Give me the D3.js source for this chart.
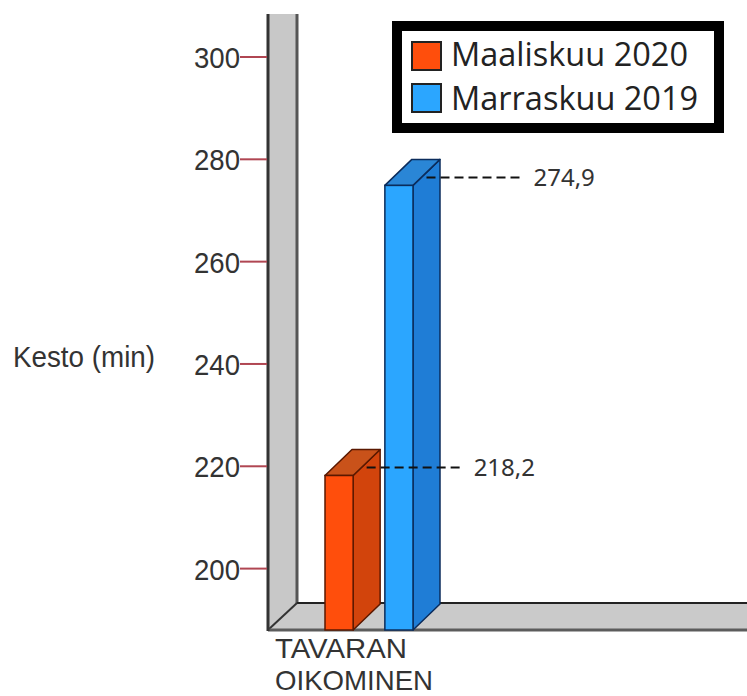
<!DOCTYPE html>
<html lang="fi">
<head>
  <meta charset="UTF-8">
  <title>index</title>
  <style type="text/css">
    html, body {
      margin: 0;
      padding: 0;
      background: #fff;
    }
    svg {
      display: block;
    }
  </style>
</head>
<body>
  <svg id="chart" width="747" height="696"></svg>

<script src="https://cdn.jsdelivr.net/npm/d3@7/dist/d3.min.js"></script>
<script>
  // data
  const categories = ['TAVARAN OIKOMINEN']
  const seriesNames = ['Maaliskuu 2020', 'Marraskuu 2019']
  const seriesValues = [218.2, 274.9]
  const yTicks = [200, 220, 240, 260, 280, 300]
  const yTitle = 'Kesto (min)'

  const colors = {
    'Maaliskuu 2020': { front: '#ff4e0c', side: '#d2440c', top: '#c9521a', edge: '#5a1800' },
    'Marraskuu 2019': { front: '#2ba6ff', side: '#1f7dd6', top: '#2a86d6', edge: '#0b2c5c' }
  }

  const fi = d3.formatLocale({ decimal: ',', thousands: ' ', grouping: [3], currency: ['', ' €'] })
  const fmt = fi.format('.1f')

  const svg = d3.select('#chart')

  // plot frame
  const plotLeft = 268, plotRight = 747, plotTop = 14
  const wallDx = 29, wallDy = -27
  const barDx = 27, barDy = -26

  const y = d3.scaleLinear().domain([188, 300]).range([630, 57])
  const x0 = d3.scaleBand().domain(categories).range([325, 413])
  const x1 = d3.scaleBand().domain(seriesNames).range([0, x0.bandwidth()]).paddingInner(0.53)

  const floorY = y(y.domain()[0])

  // side wall
  svg.append('polygon')
    .attr('points', [[plotLeft, plotTop], [plotLeft + wallDx, plotTop], [plotLeft + wallDx, floorY + wallDy], [plotLeft, floorY]].join(' '))
    .attr('fill', '#c8c8c8')
  // floor
  svg.append('polygon')
    .attr('points', [[plotLeft, floorY], [plotLeft + wallDx, floorY + wallDy], [plotRight, floorY + wallDy], [plotRight, floorY]].join(' '))
    .attr('fill', '#cacaca')

  svg.append('line').attr('x1', plotLeft + wallDx).attr('x2', plotLeft + wallDx)
    .attr('y1', plotTop).attr('y2', floorY + wallDy)
    .attr('stroke', '#555').attr('stroke-width', 3)
  svg.append('line').attr('x1', plotLeft + wallDx).attr('x2', plotRight)
    .attr('y1', floorY + wallDy).attr('y2', floorY + wallDy)
    .attr('stroke', '#222').attr('stroke-width', 2)
  svg.append('line').attr('x1', plotLeft).attr('x2', plotLeft + wallDx)
    .attr('y1', floorY).attr('y2', floorY + wallDy)
    .attr('stroke', '#333').attr('stroke-width', 2)
  svg.append('line').attr('x1', plotLeft).attr('x2', plotRight)
    .attr('y1', floorY).attr('y2', floorY)
    .attr('stroke', '#5c5c5c').attr('stroke-width', 3)
  svg.append('line').attr('x1', plotLeft).attr('x2', plotLeft)
    .attr('y1', plotTop).attr('y2', floorY + 1)
    .attr('stroke', '#333').attr('stroke-width', 3)

  // y axis ticks + labels
  const ticks = svg.append('g')
  ticks.selectAll('line').data(yTicks).join('line')
    .attr('x1', 240).attr('x2', plotLeft - 1)
    .attr('y1', d => y(d)).attr('y2', d => y(d))
    .attr('stroke', '#b04652').attr('stroke-width', 2)
  ticks.selectAll('text').data(yTicks).join('text')
    .attr('x', 240).attr('y', d => y(d) + 11)
    .attr('text-anchor', 'end')
    .attr('font-family', 'Liberation Sans, Arial, sans-serif')
    .attr('font-size', 30)
    .attr('textLength', 46).attr('lengthAdjust', 'spacingAndGlyphs')
    .attr('fill', '#333')
    .text(d => d)

  svg.append('text')
    .attr('x', 13).attr('y', 367)
    .attr('font-family', 'Liberation Sans, Arial, sans-serif')
    .attr('font-size', 29)
    .attr('textLength', 142).attr('lengthAdjust', 'spacingAndGlyphs')
    .attr('fill', '#333')
    .text(yTitle)

  // 3d bars
  const bars = svg.append('g')
  seriesNames.forEach((s, i) => {
    const v = seriesValues[i]
    const c = colors[s]
    const bx = x0(categories[0]) + x1(s)
    const bw = x1.bandwidth()
    const by = y(v)
    const g = bars.append('g')
    // side
    g.append('polygon')
      .attr('points', [[bx + bw, by], [bx + bw + barDx, by + barDy], [bx + bw + barDx, floorY + barDy], [bx + bw, floorY]].join(' '))
      .attr('fill', c.side).attr('stroke', c.edge).attr('stroke-width', 1.5).attr('stroke-linejoin', 'round')
    // top
    g.append('polygon')
      .attr('points', [[bx, by], [bx + barDx, by + barDy], [bx + bw + barDx, by + barDy], [bx + bw, by]].join(' '))
      .attr('fill', c.top).attr('stroke', c.edge).attr('stroke-width', 1.5).attr('stroke-linejoin', 'round')
    // front
    g.append('rect')
      .attr('x', bx).attr('y', by)
      .attr('width', bw).attr('height', floorY - by)
      .attr('fill', c.front).attr('stroke', c.edge).attr('stroke-width', 1.5)
  })

  // value labels with dashed leaders
  const lbl = svg.append('g')
  seriesNames.forEach((s, i) => {
    const v = seriesValues[i]
    const sx = x0(categories[0]) + x1(s) + x1.bandwidth() + barDx / 2
    const sy = y(v) - 8
    lbl.append('line')
      .attr('x1', sx).attr('x2', sx + 96)
      .attr('y1', sy).attr('y2', sy)
      .attr('stroke', '#111').attr('stroke-width', 2)
      .attr('stroke-dasharray', '9,5')
    lbl.append('text')
      .attr('x', sx + 107).attr('y', sy + 9)
      .attr('font-family', 'Noto Sans, Open Sans, sans-serif')
      .attr('font-size', 24)
      .attr('fill', '#333')
      .text(fmt(v))
  })

  // category label (two lines)
  const catLines = categories[0].split(' ')
  const catLens = [132, 158]
  svg.append('g').selectAll('text').data(catLines).join('text')
    .attr('x', 275).attr('y', (d, i) => 658 + i * 32)
    .attr('font-family', 'Liberation Sans, Arial, sans-serif')
    .attr('font-size', 28)
    .attr('textLength', (d, i) => catLens[i]).attr('lengthAdjust', 'spacingAndGlyphs')
    .attr('fill', '#333')
    .text(d => d)

  // legend
  const lg = svg.append('g')
  lg.append('rect')
    .attr('x', 397).attr('y', 26).attr('width', 322).attr('height', 102)
    .attr('fill', '#fff').attr('stroke', '#000').attr('stroke-width', 10)
  seriesNames.forEach((s, i) => {
    lg.append('rect')
      .attr('x', 412).attr('y', 42 + i * 42)
      .attr('width', 29).attr('height', 28)
      .attr('fill', colors[s].front).attr('stroke', '#222').attr('stroke-width', 2)
    lg.append('text')
      .attr('x', 451).attr('y', 66 + i * 44)
      .attr('font-family', 'Open Sans, Noto Sans, sans-serif')
      .attr('font-size', 32.5)
      .attr('fill', '#222')
      .text(s)
  })
</script>
</body>
</html>
